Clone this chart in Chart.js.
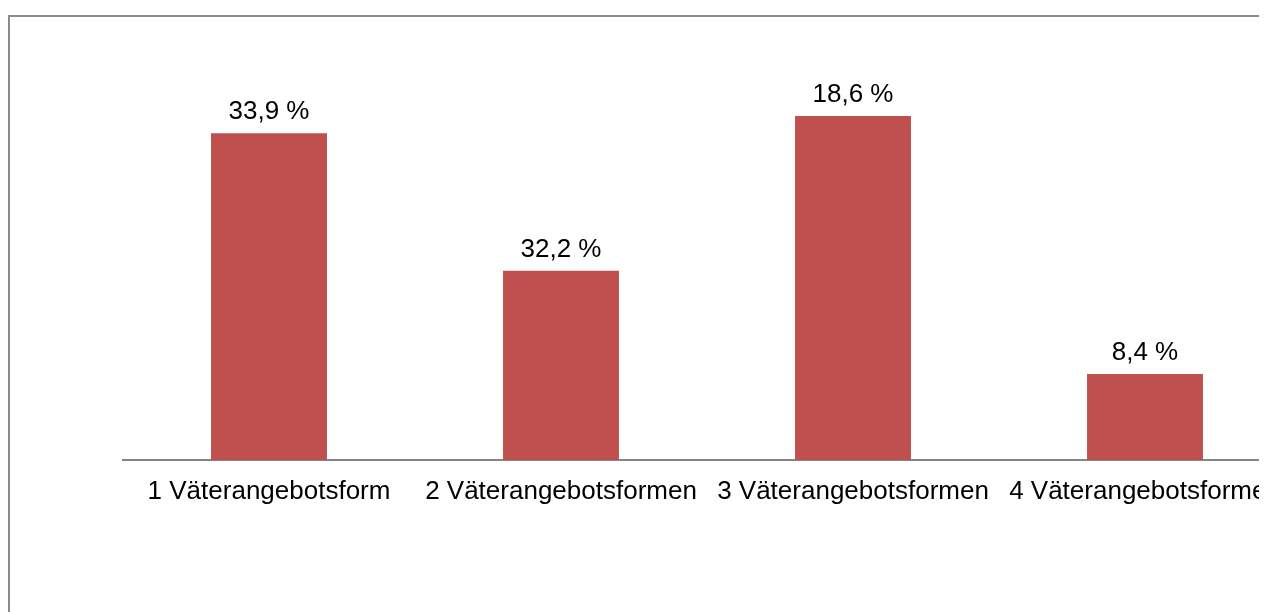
<!DOCTYPE html>
<html>
<head>
<meta charset="utf-8">
<script src="https://cdn.jsdelivr.net/npm/chart.js@4"></script>
<style>
  html, body { margin: 0; padding: 0; background: #fff; overflow: hidden; }
  #frame {
    position: absolute; left: 8px; top: 15px;
    width: 1249px; height: 700px;
    border-top: 2px solid #8c8c8c; border-left: 2px solid #8c8c8c;
    overflow: hidden;
  }
  #chart { position: absolute; left: -10px; top: -17px; }
</style>
</head>
<body>
<div id="frame"><canvas id="chart" width="1320" height="612"></canvas></div>
<script>
// categories and values
const categories = ['1 Väterangebotsform', '2 Väterangebotsformen', '3 Väterangebotsformen', '4 Väterangebotsformen'];
const barValues = [38.0, 22.0, 40.0, 10.0];
const barLabels = ['33,9 %', '32,2 %', '18,6 %', '8,4 %'];

const FONT = 'Liberation Sans, Arial, sans-serif';

// value labels above the bars
const valueLabels = {
    id: 'valueLabels',
    afterDatasetsDraw(chart) {
        const c = chart.ctx;
        c.save();
        c.font = '26px ' + FONT;
        c.fillStyle = '#000';
        c.textAlign = 'center';
        c.textBaseline = 'alphabetic';
        chart.getDatasetMeta(0).data.forEach((bar, i) => {
            c.fillText(barLabels[i], bar.x, bar.y - 14);
        });
        c.restore();
    }
};

new Chart(document.getElementById('chart'), {
    type: 'bar',
    data: {
        labels: categories,
        datasets: [{
            data: barValues,
            backgroundColor: '#C0504D',
            categoryPercentage: 1,
            barPercentage: 0.397
        }]
    },
    options: {
        responsive: false,
        animation: false,
        layout: { padding: { left: 123, right: 29, top: 30, bottom: 0 } },
        plugins: { legend: { display: false }, tooltip: { enabled: false } },
        scales: {
            x: {
                grid: { display: false, drawTicks: false },
                border: { display: true, color: '#868686', width: 2 },
                ticks: { color: '#000', font: { family: FONT, size: 26 }, padding: 16, maxRotation: 0, autoSkip: false },
                afterFit(scale) { scale.height = 152; }
            },
            y: {
                display: false,
                min: 0,
                max: 50
            }
        }
    },
    plugins: [valueLabels]
});
</script>
</body>
</html>
